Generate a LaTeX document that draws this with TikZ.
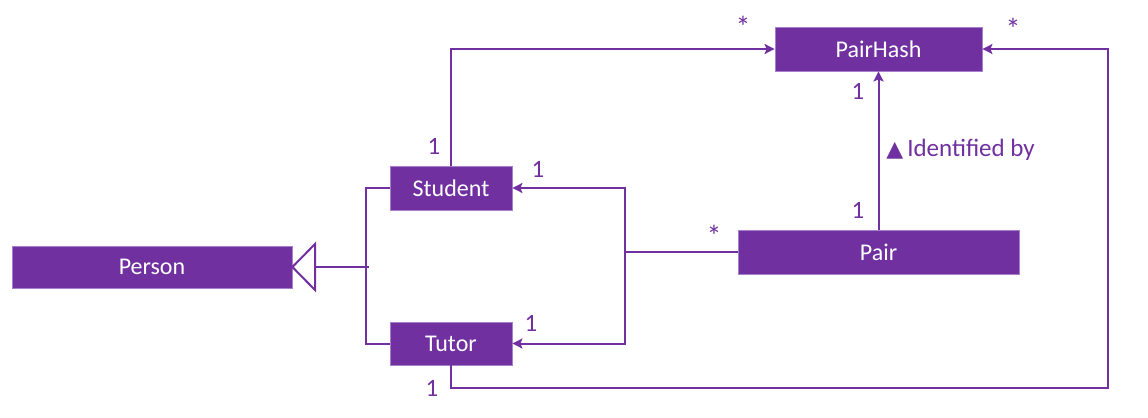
\documentclass[tikz,border=0pt]{standalone}
\usepackage{fontspec}
\setmainfont{Carlito}
\newfontfamily\symfont{DejaVu Sans}
\usetikzlibrary{arrows.meta,calc}
\definecolor{uml}{HTML}{7030A0}
\definecolor{umledge}{HTML}{A680CC}
\begin{document}
\begin{tikzpicture}[x=0.5pt,y=-0.5pt,
  cls/.style={rectangle,fill=uml,draw=umledge,line width=0.4pt,text=white,
    font=\fontsize{12}{14}\selectfont,inner sep=0pt},
  lab/.style={text=uml,font=\fontsize{12.5}{14}\selectfont,inner sep=0pt},
  star/.style={text=uml,font=\fontsize{15}{16}\selectfont,inner sep=0pt},
  conn/.style={draw=uml,line width=1pt},
  arr/.style={conn,-{Stealth[length=5pt,width=5pt,inset=1pt]}}]
\useasboundingbox (0,0) rectangle (1148,418);
% classes
\node[cls,minimum width=140pt,minimum height=21pt] (P) at (152,267) {Person};
\node[cls,minimum width=61pt,minimum height=22pt] (S) at (451,188) {Student};
\node[cls,minimum width=61pt,minimum height=21.5pt] (T) at (451,343.5) {Tutor};
\node[cls,minimum width=103.5pt,minimum height=22pt] (PH) at (878.5,49) {PairHash};
\node[cls,minimum width=140.5pt,minimum height=22pt] (PR) at (878.5,252) {Pair};
% generalization
\coordinate (g) at (366,267);
\coordinate (gb) at (315,267);
\coordinate (ge) at (369,267);
\draw[conn] (S.west) -| (g) |- (T.west);
\draw[conn] (gb) -- (ge);
\draw[conn,fill=white,line join=miter] (P.east) -- ($(gb)+(0,-23)$) -- ($(gb)+(0,23)$) -- cycle;
% Student -> PairHash
\draw[arr] (S.north) |- (PH.west);
% Pair -> Student / Tutor
\coordinate (j) at (625,252);
\draw[conn] (PR.west) -- (j);
\draw[arr] (j) |- (S.east);
\draw[arr] (j) |- (T.east);
% Pair -> PairHash
\draw[arr] (PR.north) -- (PH.south);
% Tutor -> PairHash
\coordinate (c1) at (1108,388);
\draw[arr] (T.south) |- (c1) |- (PH.east);
% multiplicities
\node[lab] (l1) at (434,146) {1};
\node[star] (l2) at (743,27) {*};
\node[lab] (l3) at (538,169) {1};
\node[lab] (l4) at (531,323) {1};
\node[star] (l5) at (714,236) {*};
\node[lab] (l6) at (858,91) {1};
\node[lab] (l7) at (858,210) {1};
\node[lab] (l8) at (432,388) {1};
\node[star] (l9) at (1013,29) {*};
\node[lab,anchor=west] (idb) at (886,150) {{\symfont\fontsize{11}{12}\selectfont ▲}\kern2pt Identified by};
\end{tikzpicture}
\end{document}
